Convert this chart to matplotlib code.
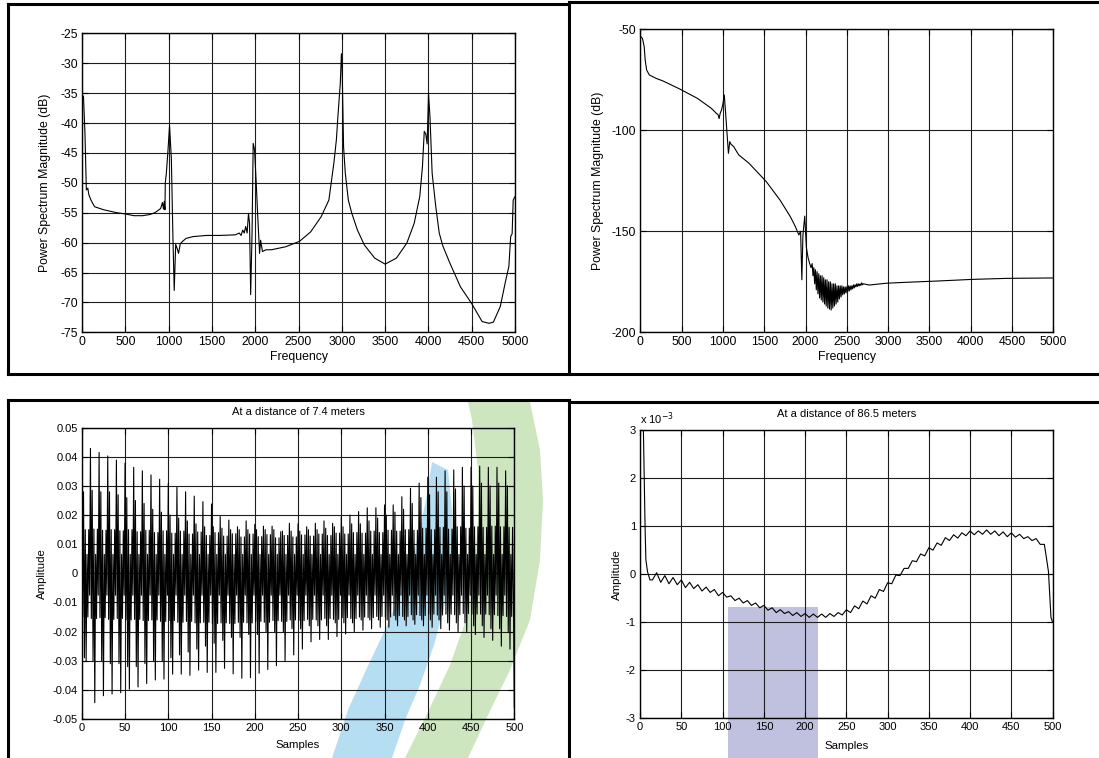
import numpy as np
import matplotlib
matplotlib.use("Agg")
import matplotlib.pyplot as plt
from matplotlib.lines import Line2D
from matplotlib.patches import Polygon
from matplotlib.ticker import FuncFormatter

plt.rcParams['font.family'] = ['Liberation Sans', 'DejaVu Sans']
plt.rcParams['axes.unicode_minus'] = False

# ---------------- power spectrum, near receiver (dB) ----------------
psd_near_freq = [0, 16, 33, 49, 66, 78, 103, 144, 247, 400, 495, 600, 700, 784, 840, 880,
                 907, 928, 940, 949, 957, 961, 973, 990, 1010, 1031, 1048, 1064, 1081, 1098,
                 1114, 1134, 1160, 1200, 1280, 1440, 1600, 1770, 1815, 1836, 1856, 1873, 1889,
                 1906, 1922, 1934, 1947, 1963, 1976, 1992, 2013, 2030, 2050, 2062, 2083, 2124,
                 2186, 2350, 2510, 2640, 2760, 2850, 2908, 2937, 2954, 2982, 2995, 3003, 3020,
                 3040, 3075, 3115, 3180, 3260, 3380, 3500, 3630, 3750, 3835, 3900, 3931, 3952,
                 3969, 3985, 3993, 4001, 4018, 4043, 4085, 4125, 4165, 4250, 4370, 4500, 4620,
                 4700, 4750, 4830, 4890, 4929, 4950, 4967, 4979, 5000]
psd_near_db = [-35.3, -35.6, -41.7, -51.2, -50.9, -52.0, -52.9, -54.0, -54.5, -55.0, -55.2,
               -55.5, -55.5, -55.3, -55.0, -54.6, -54.3, -53.3, -54.4, -53.1, -54.5, -50.0,
               -48.4, -45.0, -40.4, -46.0, -58.4, -68.0, -60.3, -61.0, -61.8, -60.2, -59.8,
               -59.3, -59.0, -58.8, -58.8, -58.7, -58.4, -58.8, -57.9, -58.4, -57.3, -58.4,
               -55.1, -56.8, -68.7, -58.4, -43.4, -44.5, -50.6, -56.0, -61.8, -59.6, -61.5,
               -61.2, -61.2, -60.7, -59.8, -58.2, -55.7, -52.9, -46.7, -42.8, -39.0, -33.4,
               -28.4, -30.5, -44.0, -48.4, -52.9, -55.1, -57.9, -60.4, -62.6, -63.6, -62.6,
               -60.1, -56.8, -52.3, -47.3, -41.4, -41.8, -43.5, -39.5, -35.0, -39.0, -48.4,
               -54.0, -58.4, -60.5, -63.5, -67.4, -70.2, -73.2, -73.5, -73.3, -70.7, -66.5,
               -64.0, -59.0, -58.5, -52.9, -52.3]

# ---------------- power spectrum, far receiver (dB) ----------------
psd_far_freq = [0, 4, 25, 46, 58, 75, 108, 191, 275, 483, 691, 858, 920, 941, 953, 966, 982,
                999, 1016, 1032, 1049, 1066, 1082, 1095, 1128, 1191, 1315, 1524, 1690, 1815,
                1877, 1919, 1940, 1955, 1968, 1990, 2010, 2030, 2050, 2066]
psd_far_db = [-53.0, -53.6, -54.5, -58.6, -65.2, -70.1, -72.6, -74.3, -75.6, -79.7, -84.2,
              -89.1, -91.6, -92.3, -94.2, -91.6, -90.0, -87.0, -82.5, -91.6, -101.5, -111.4,
              -105.6, -106.8, -108.0, -112.2, -116.3, -125.4, -134.5, -142.7, -147.7, -151.8,
              -150.0, -174.0, -152.0, -142.5, -158.0, -163.0, -166.0, -168.0]
# ringing just above 2 kHz: upper / lower swings
ring_freq = [2080, 2100, 2120, 2140, 2160, 2180, 2200, 2220, 2240, 2260, 2280, 2300, 2320,
             2340, 2360, 2380, 2400, 2420, 2440, 2460, 2480, 2500, 2520, 2540, 2560, 2580,
             2600, 2620, 2640, 2660, 2680]
ring_hi = [-166.0, -168.0, -169.0, -170.0, -171.0, -172.0, -172.0, -173.0, -174.0, -174.0,
           -175.0, -175.0, -176.0, -176.0, -176.0, -177.0, -177.0, -177.0, -177.0, -177.5,
           -177.5, -177.5, -177.0, -177.0, -177.0, -176.5, -176.5, -176.0, -176.0, -176.0,
           -175.5]
ring_lo = [-172.0, -176.0, -179.0, -181.0, -183.0, -184.0, -185.0, -186.0, -187.0, -188.0,
           -188.5, -189.0, -188.0, -187.0, -186.0, -185.0, -183.5, -182.5, -181.5, -181.0,
           -180.5, -180.0, -179.5, -179.0, -178.5, -178.0, -177.5, -177.3, -177.0, -176.8,
           -176.5]
tail_freq = [2700, 2772, 2980, 3189, 3605, 4021, 4438, 5000]
tail_db = [-176.0, -176.6, -175.7, -175.3, -174.6, -173.8, -173.3, -173.1]

# ---------------- time signal at 7.4 m (one 10-sample cycle per entry) ----------------
cyc_peak = [0.028, 0.0429, 0.0415, 0.0403, 0.0389, 0.0378, 0.0364, 0.0352, 0.0338, 0.0323,
            0.0309, 0.0295, 0.0280, 0.0265, 0.0246, 0.0238, 0.0195, 0.0183, 0.0160, 0.0180,
            0.0168, 0.0162, 0.0162, 0.0143, 0.0172, 0.0170, 0.0160, 0.0172, 0.0180, 0.0172,
            0.0195, 0.0200, 0.0212, 0.0225, 0.0225, 0.0235, 0.0235, 0.0263, 0.0292, 0.0310,
            0.0330, 0.0330, 0.0352, 0.0355, 0.0364, 0.0364, 0.0368, 0.0364, 0.0364, 0.0352]
cyc_peak2 = [0.028, 0.0285, 0.028, 0.028, 0.027, 0.026, 0.025, 0.024, 0.022, 0.021,
             0.020, 0.019, 0.018, 0.017, 0.016, 0.016, 0.0155, 0.015, 0.015, 0.015,
             0.015, 0.015, 0.015, 0.0145, 0.0145, 0.0145, 0.015, 0.015, 0.0155, 0.016,
             0.016, 0.017, 0.017, 0.018, 0.019, 0.020, 0.021, 0.022, 0.024, 0.026,
             0.027, 0.028, 0.028, 0.029, 0.030, 0.030, 0.031, 0.030, 0.031, 0.030]
cyc_trough = [-0.030, -0.0444, -0.042, -0.0414, -0.041, -0.0398, -0.039, -0.0378, -0.0366, -0.0363,
              -0.0346, -0.0346, -0.035, -0.0332, -0.034, -0.034, -0.0326, -0.0345, -0.036, -0.0358,
              -0.0343, -0.033, -0.0317, -0.0303, -0.028, -0.026, -0.0235, -0.0227, -0.0227, -0.0217,
              -0.0208, -0.020, -0.0195, -0.019, -0.0185, -0.0185, -0.018, -0.018, -0.0175, -0.018,
              -0.0185, -0.019, -0.0195, -0.020, -0.020, -0.021, -0.022, -0.023, -0.025, -0.026]
cyc_trough2 = [-0.029, -0.030, -0.030, -0.031, -0.031, -0.032, -0.032, -0.031, -0.030, -0.030,
               -0.029, -0.028, -0.027, -0.026, -0.025, -0.024, -0.023, -0.022, -0.022, -0.021,
               -0.021, -0.020, -0.020, -0.020, -0.019, -0.019, -0.018, -0.018, -0.018, -0.017,
               -0.017, -0.017, -0.016, -0.016, -0.016, -0.016, -0.016, -0.016, -0.016, -0.016,
               -0.016, -0.016, -0.017, -0.017, -0.017, -0.018, -0.018, -0.019, -0.019, -0.020]
cyc_minor_hi = [0.0150, 0.0152, 0.0148, 0.0150, 0.0146, 0.0150, 0.0143, 0.0148, 0.0140, 0.0146,
                0.0138, 0.0145, 0.0135, 0.0142, 0.0130, 0.0140, 0.0128, 0.0136, 0.0125, 0.0135,
                0.0126, 0.0133, 0.0122, 0.0130, 0.0125, 0.0132, 0.0128, 0.0135, 0.0130, 0.0138,
                0.0135, 0.0140, 0.0138, 0.0145, 0.0140, 0.0148, 0.0145, 0.0150, 0.0148, 0.0155,
                0.0150, 0.0158, 0.0152, 0.0160, 0.0155, 0.0160, 0.0158, 0.0162, 0.0160, 0.0158]
cyc_minor_lo = [-0.0150, -0.0155, -0.0152, -0.0158, -0.0155, -0.0160, -0.0158, -0.0162, -0.0160, -0.0165,
                -0.0162, -0.0168, -0.0165, -0.0170, -0.0168, -0.0172, -0.0170, -0.0172, -0.0168, -0.0170,
                -0.0165, -0.0168, -0.0162, -0.0165, -0.0160, -0.0162, -0.0158, -0.0160, -0.0155, -0.0158,
                -0.0152, -0.0155, -0.0150, -0.0152, -0.0148, -0.0150, -0.0145, -0.0148, -0.0142, -0.0145,
                -0.0140, -0.0143, -0.0140, -0.0142, -0.0138, -0.0140, -0.0140, -0.0142, -0.0145, -0.0148]
inner_hi = 0.0065
inner_lo = -0.0075
last_sample = -0.046

# ---------------- time signal at 86.5 m (amplitude in units of 1e-3) ----------------
far_idx = [4, 5, 6, 7, 9, 12, 15, 20, 25, 30, 35, 40, 45, 50, 55, 60, 65, 70, 75, 80, 85, 90,
           95, 100, 105, 110, 115, 120, 125, 130, 135, 140, 145, 150, 155, 160, 165, 170, 175,
           180, 185, 190, 195, 200, 205, 210, 215, 220, 225, 230, 235, 240, 245, 250, 255, 260,
           265, 270, 275, 280, 285, 290, 295, 300, 305, 310, 315, 320, 325, 330, 335, 340, 345,
           350, 355, 360, 365, 370, 375, 380, 385, 390, 395, 400, 405, 410, 415, 420, 425, 430,
           435, 440, 445, 450, 455, 460, 465, 470, 475, 480, 485, 490, 492, 495, 498, 500]
far_milli = [3.0, 2.0, 1.0, 0.3, 0.05, -0.12, -0.12, 0.03, -0.17, -0.03, -0.20, -0.07, -0.22,
             -0.12, -0.28, -0.17, -0.30, -0.22, -0.35, -0.27, -0.38, -0.32, -0.45, -0.38, -0.48,
             -0.45, -0.55, -0.50, -0.60, -0.55, -0.65, -0.60, -0.70, -0.65, -0.75, -0.70, -0.80,
             -0.74, -0.82, -0.78, -0.86, -0.80, -0.88, -0.82, -0.90, -0.83, -0.90, -0.83, -0.90,
             -0.82, -0.88, -0.80, -0.85, -0.74, -0.80, -0.66, -0.72, -0.56, -0.62, -0.45, -0.50,
             -0.32, -0.36, -0.18, -0.20, -0.02, -0.03, 0.12, 0.12, 0.28, 0.26, 0.42, 0.38, 0.55,
             0.50, 0.65, 0.60, 0.76, 0.70, 0.82, 0.75, 0.86, 0.80, 0.90, 0.82, 0.90, 0.83, 0.92,
             0.83, 0.90, 0.80, 0.88, 0.78, 0.86, 0.77, 0.83, 0.74, 0.78, 0.70, 0.74, 0.62, 0.62,
             0.40, 0.05, -0.90, -1.00]

# ---------------- assemble series ----------------
far_f = list(psd_far_freq)
far_db = list(psd_far_db)
for f, hi, lo in zip(ring_freq, ring_hi, ring_lo):
    far_f += [f, f + 10]
    far_db += [hi, lo]
far_f += tail_freq
far_db += tail_db

near_sig = []
for k in range(len(cyc_peak)):
    near_sig += [cyc_peak[k], cyc_minor_lo[k], cyc_peak2[k], cyc_trough2[k], cyc_minor_hi[k],
                 cyc_trough[k], inner_hi, cyc_minor_lo[k], cyc_minor_hi[k], inner_lo]
near_sig.append(last_sample)
near_n = np.arange(len(near_sig))

# ---------------- figure ----------------
W, H = 1099, 758
fig = plt.figure(figsize=(W / 100, H / 100), dpi=100)


def px_axes(x0, x1, ytop, ybot):
    return fig.add_axes([x0 / W, 1 - ybot / H, (x1 - x0) / W, (ybot - ytop) / H])


def style(ax, fs):
    ax.set_facecolor('none')
    ax.grid(True, color='#1e1e1e', lw=0.8)
    ax.set_axisbelow(True)
    ax.tick_params(direction='in', length=4, width=0.8, labelsize=fs, pad=3,
                   top=True, right=True, colors='black')
    for s in ax.spines.values():
        s.set_linewidth(1.0)
        s.set_color('black')


fmt = FuncFormatter(lambda v, p: f'{v:g}')
LINE = dict(color='black', lw=0.8)

# faint emblem behind the lower panels
def backdrop(points, color):
    pts = [(x / W, 1 - y / H) for x, y in points]
    fig.add_artist(Polygon(pts, closed=True, transform=fig.transFigure,
                           facecolor=color, edgecolor='none', zorder=-5))

backdrop([(432, 462), (426, 500), (416, 545), (402, 590), (385, 630), (366, 670),
          (348, 710), (332, 758), (392, 758), (405, 720), (420, 685), (434, 645),
          (446, 600), (452, 555), (452, 510), (448, 470)], '#b6def3')
backdrop([(530, 402), (540, 450), (543, 500), (540, 560), (530, 620), (510, 670),
          (488, 715), (468, 758), (405, 758), (428, 712), (450, 665), (466, 620),
          (474, 570), (478, 520), (478, 470), (472, 420), (468, 402)], '#cde6bf')
backdrop([(728, 607), (818, 607), (818, 758), (728, 758)], '#c0c1de')

# top left
ax1 = px_axes(82.1, 515.0, 33.3, 332.3)
ax1.plot(psd_near_freq, psd_near_db, **LINE)
ax1.set_xlim(0, 5000)
ax1.set_ylim(-75, -25)
ax1.set_xticks(np.arange(0, 5001, 500))
ax1.set_yticks(np.arange(-75, -24, 5))
style(ax1, 8.8)
ax1.set_xlabel('Frequency', fontsize=8.8)
ax1.set_ylabel('Power Spectrum Magnitude (dB)', fontsize=8.8)
ax1.yaxis.set_label_coords(-0.0866, 0.5)
ax1.xaxis.set_label_coords(0.5, -0.0826)
ax1.xaxis.label.set_va('center')
ax1.yaxis.label.set_va('center')

# top right
ax2 = px_axes(640.4, 1053.3, 29.3, 332.3)
ax2.plot(far_f, far_db, **LINE)
ax2.set_xlim(0, 5000)
ax2.set_ylim(-200, -50)
ax2.set_xticks(np.arange(0, 5001, 500))
ax2.set_yticks([-200, -150, -100, -50])
style(ax2, 8.8)
ax2.set_xlabel('Frequency', fontsize=8.8)
ax2.set_ylabel('Power Spectrum Magnitude (dB)', fontsize=8.8)
ax2.yaxis.set_label_coords(-0.103, 0.5)
ax2.xaxis.set_label_coords(0.5, -0.081)
ax2.xaxis.label.set_va('center')
ax2.yaxis.label.set_va('center')

# bottom left
ax3 = px_axes(81.8, 514.3, 427.7, 719.0)
ax3.plot(near_n, near_sig, **LINE)
ax3.set_xlim(0, 500)
ax3.set_ylim(-0.05, 0.05)
ax3.set_xticks(np.arange(0, 501, 50))
ax3.set_yticks(np.round(np.arange(-0.05, 0.051, 0.01), 2))
ax3.yaxis.set_major_formatter(fmt)
style(ax3, 8.0)
ax3.set_xlabel('Samples', fontsize=8.2)
ax3.set_ylabel('Amplitude', fontsize=8.2)
ax3.set_title('At a distance of 7.4 meters', fontsize=8.0, pad=9)
ax3.yaxis.set_label_coords(-0.0925, 0.5)
ax3.xaxis.set_label_coords(0.5, -0.089)
ax3.xaxis.label.set_va('center')
ax3.yaxis.label.set_va('center')

# bottom right
ax4 = px_axes(640.1, 1052.6, 430.0, 718.3)
ax4.plot(far_idx, far_milli, **LINE)
ax4.set_xlim(0, 500)
ax4.set_ylim(-3, 3)
ax4.set_xticks(np.arange(0, 501, 50))
ax4.set_yticks(np.arange(-3, 4, 1))
ax4.yaxis.set_major_formatter(fmt)
style(ax4, 8.0)
ax4.set_xlabel('Samples', fontsize=8.2)
ax4.set_ylabel('Amplitude', fontsize=8.2)
ax4.set_title('At a distance of 86.5 meters', fontsize=8.0, pad=9)
ax4.yaxis.set_label_coords(-0.0567, 0.5)
ax4.xaxis.set_label_coords(0.5, -0.095)
ax4.xaxis.label.set_va('center')
ax4.yaxis.label.set_va('center')
ax4.text(0.0, 1.01, r'x 10$^{-3}$', transform=ax4.transAxes, fontsize=8.0,
         ha='left', va='bottom')

# panel frames
def frame(x0, y0, x1, y1):
    fig.add_artist(Line2D([x0 / W, x1 / W], [1 - y0 / H, 1 - y1 / H],
                          color='black', lw=2.2, solid_capstyle='projecting'))

frame(7.5, 4.3, 569, 4.3)
frame(7.5, 4.3, 7.5, 374.3)
frame(569, 1.5, 569, 374.3)
frame(569, 1.5, 1099, 1.5)
frame(7.5, 374.3, 1099, 374.3)
frame(7.5, 400, 569, 400)
frame(7.5, 400, 7.5, 758)
frame(569, 400, 569, 758)
frame(569, 401.7, 1099, 401.7)

fig.savefig('out.png', dpi=100)
